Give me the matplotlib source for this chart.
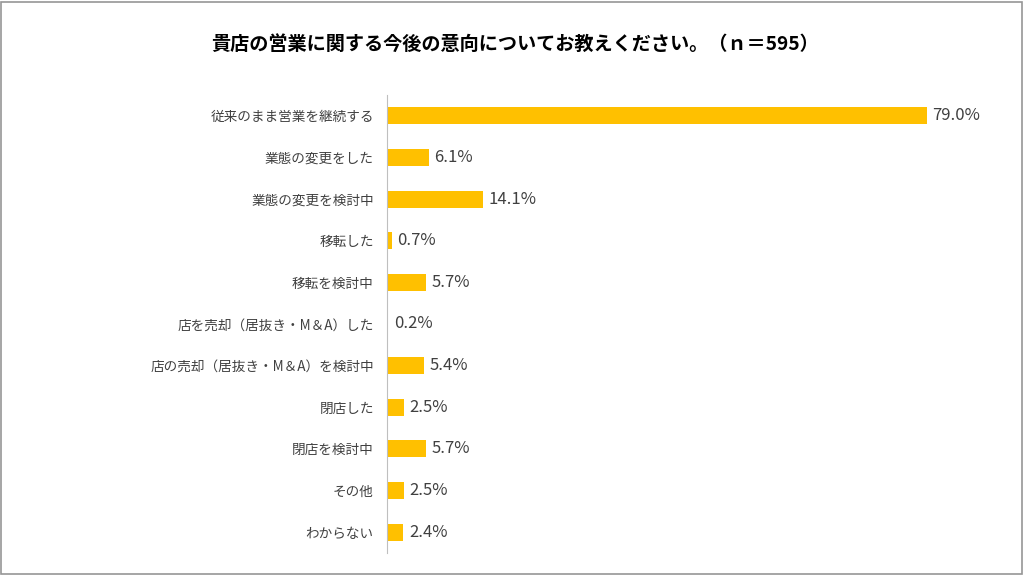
"""Business intentions survey - horizontal bar chart."""

import matplotlib
matplotlib.use('Agg')
from matplotlib import pyplot as plt
from matplotlib.patches import Rectangle

plt.rcParams['font.family'] = ['Noto Sans CJK JP', 'DejaVu Sans']

TITLE = '貴店の営業に関する今後の意向についてお教えください。（ｎ＝595）'
categories = [
    '従来のまま営業を継続する',
    '業態の変更をした',
    '業態の変更を検討中',
    '移転した',
    '移転を検討中',
    '店を売却（居抜き・M＆A）した',
    '店の売却（居抜き・M＆A）を検討中',
    '閉店した',
    '閉店を検討中',
    'その他',
    'わからない',
]
percents = [79.0, 6.1, 14.1, 0.7, 5.7, 0.2, 5.4, 2.5, 5.7, 2.5, 2.4]


def plot_bars():
    """Draw the bar chart and save it."""
    fig = plt.figure(figsize=(10.24, 5.75), dpi=100)
    ax = fig.add_axes([387 / 1024, 22 / 575, 601 / 1024, 458 / 575])
    ypos = list(range(len(categories)))
    ax.barh(ypos, percents, height=0.41, color='#FFC000')
    for y, v in zip(ypos, percents):
        ax.text(v + 0.8, y, f'{v:.1f}%', va='center', ha='left',
                fontsize=12, color='#404040')
    ax.set_xlim(0, 88)
    ax.set_ylim(len(categories) - 0.5, -0.5)
    ax.set_yticks(ypos)
    ax.set_yticklabels(categories, fontsize=9.8, color='#404040')
    ax.tick_params(axis='y', length=0, pad=9.5)
    ax.set_xticks([])
    for side in ('top', 'right', 'bottom'):
        ax.spines[side].set_visible(False)
    ax.spines['left'].set_color('#BFBFBF')
    fig.text(0.503, 0.922, TITLE, ha='center', va='center',
             fontsize=13.8, fontweight='bold', color='#000000')
    fig.patches.append(Rectangle((0.001, 0.002), 0.997, 0.995,
                                 transform=fig.transFigure, fill=False,
                                 edgecolor='#969696', linewidth=1.2))
    fig.savefig('out.png', dpi=100)


if __name__ == '__main__':
    plot_bars()
